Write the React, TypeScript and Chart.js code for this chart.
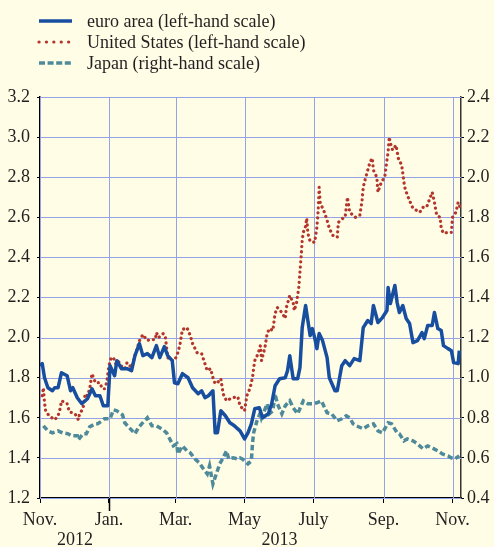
import React, { useEffect, useRef } from "react";
import { Chart, registerables } from "chart.js";

Chart.register(...registerables);

// x values are days since 1 Nov 2012
const euroDays = [0,2,4,7,11,13,16,19,24,27,29,33,37,42,46,49,53,56,60,62,66,68,72,77,81,84,88,91,95,99,103,106,110,113,117,119,122,126,131,135,140,143,146,149,153,155,157,160,164,168,172,177,181,184,187,190,194,197,202,205,208,212,217,219,221,224,228,230,232,235,237,239,241,243,245,247,250,254,256,261,263,267,270,274,278,283,286,290,293,295,299,303,307,308,310,314,316,318,321,324,327,330,334,338,340,343,347,349,352,355,357,361,364,366,370,371];
const euroValues = [1.86,1.87,1.80,1.75,1.735,1.75,1.75,1.825,1.81,1.735,1.75,1.70,1.67,1.695,1.745,1.71,1.71,1.66,1.66,1.86,1.81,1.885,1.845,1.845,1.835,1.91,1.97,1.91,1.92,1.90,1.96,1.90,1.955,1.91,1.885,1.775,1.77,1.82,1.80,1.75,1.72,1.735,1.70,1.71,1.735,1.525,1.525,1.635,1.61,1.575,1.56,1.535,1.495,1.525,1.57,1.645,1.65,1.60,1.62,1.67,1.76,1.795,1.80,1.835,1.91,1.795,1.795,1.85,2.05,2.16,2.085,2.01,2.045,2.00,1.945,2.02,1.985,1.90,1.80,1.735,1.735,1.86,1.885,1.86,1.895,1.885,2.05,2.085,2.07,2.16,2.075,2.10,2.135,2.25,2.17,2.26,2.175,2.125,2.16,2.095,2.07,1.975,1.985,2.025,1.995,2.06,2.06,2.125,2.045,2.035,1.96,1.945,1.935,1.875,1.87,1.935];

const usDays = [2,3,4,5,8,13,16,18,19,24,26,31,34,35,38,40,42,44,46,49,53,55,57,59,61,63,65,67,69,73,75,77,81,84,86,88,91,95,97,102,103,105,109,111,113,117,119,122,124,126,130,133,135,139,143,145,148,151,153,155,157,160,162,165,170,175,177,181,183,186,188,189,190,193,195,196,199,201,203,206,208,210,214,217,218,221,224,225,227,229,230,231,232,233,235,236,237,239,243,245,246,247,248,251,254,256,259,263,264,268,270,272,274,279,283,285,286,288,290,292,294,295,298,299,302,305,307,308,309,310,312,315,317,320,321,322,323,325,328,330,333,336,339,342,345,347,349,351,354,355,357,361,364,365,368,370,372];
const usValues = [1.71,1.75,1.675,1.635,1.61,1.59,1.61,1.65,1.685,1.67,1.63,1.62,1.59,1.62,1.645,1.72,1.71,1.745,1.82,1.775,1.775,1.745,1.745,1.775,1.86,1.90,1.90,1.87,1.885,1.85,1.845,1.875,1.85,1.91,1.945,1.985,2.015,1.985,1.99,1.99,2.025,2.00,2.02,2.00,1.90,1.885,1.885,1.925,1.97,2.04,2.05,2.01,1.97,1.925,1.92,1.885,1.835,1.845,1.80,1.77,1.775,1.795,1.72,1.685,1.70,1.705,1.66,1.635,1.71,1.75,1.80,1.845,1.885,1.92,1.96,1.885,1.95,2.02,2.045,2.035,2.12,2.15,2.125,2.095,2.15,2.21,2.175,2.135,2.175,2.25,2.325,2.40,2.485,2.525,2.555,2.595,2.52,2.48,2.475,2.55,2.625,2.75,2.67,2.635,2.585,2.545,2.51,2.50,2.575,2.595,2.60,2.70,2.625,2.60,2.61,2.685,2.75,2.795,2.835,2.875,2.895,2.835,2.80,2.725,2.775,2.80,2.885,2.925,3.00,2.97,2.935,2.96,2.895,2.86,2.82,2.775,2.745,2.71,2.67,2.645,2.635,2.625,2.65,2.65,2.695,2.725,2.675,2.61,2.60,2.545,2.52,2.525,2.525,2.60,2.625,2.675,2.645];

const japanDays = [3,7,11,16,20,25,28,33,34,38,41,44,49,51,55,57,62,65,68,73,75,80,84,87,90,95,99,103,109,112,118,121,122,126,130,133,137,141,144,148,150,153,156,159,162,165,167,171,175,177,179,184,187,188,189,192,195,196,201,203,206,208,210,214,217,221,224,228,233,237,241,245,249,254,258,263,267,271,274,277,280,286,290,295,299,303,308,311,316,318,322,325,330,334,339,343,347,352,356,361,364,367,371];
const japanValues = [0.76,0.735,0.725,0.735,0.725,0.72,0.71,0.71,0.69,0.72,0.72,0.755,0.77,0.77,0.785,0.795,0.795,0.84,0.835,0.815,0.775,0.745,0.72,0.75,0.77,0.80,0.76,0.76,0.74,0.725,0.66,0.67,0.62,0.66,0.635,0.625,0.595,0.575,0.55,0.52,0.56,0.47,0.52,0.57,0.60,0.635,0.595,0.60,0.595,0.60,0.595,0.57,0.585,0.67,0.725,0.785,0.825,0.80,0.87,0.82,0.835,0.92,0.87,0.82,0.86,0.885,0.85,0.82,0.885,0.87,0.87,0.875,0.885,0.825,0.82,0.785,0.795,0.81,0.80,0.77,0.76,0.745,0.76,0.77,0.735,0.725,0.775,0.77,0.725,0.72,0.685,0.695,0.685,0.67,0.645,0.66,0.65,0.635,0.62,0.61,0.60,0.595,0.61];

const seriesLabels = [
  "euro area (left-hand scale)",
  "United States (left-hand scale)",
  "Japan (right-hand scale)",
];
const tickDays = [0, 61, 120, 181, 242, 304, 365];
const tickLabels = ["Nov.", "Jan.", "Mar.", "May", "July", "Sep.", "Nov."];
const yearDays = [31, 212];
const yearLabels = ["2012", "2013"];
const yearBoundaryDays = [61];

const BG = "#FFFDE6";
const GRID = "#96A2E6";
const FONT = "'Liberation Serif', 'Times New Roman', serif";
const TEXT = "#231F20";
const FS = 18;

const zip = (xs: number[], ys: number[]) => xs.map((x, i) => ({ x, y: ys[i] }));

export default function App() {
  const ref = useRef<HTMLCanvasElement | null>(null);

  useEffect(() => {
    document.body.style.margin = "0";
    document.body.style.background = BG;
    const canvas = ref.current;
    if (!canvas) return;

    const bgPlugin = {
      id: "bg",
      beforeDraw(chart: any) {
        const { ctx, width, height } = chart;
        ctx.save();
        ctx.fillStyle = BG;
        ctx.fillRect(0, 0, width, height);
        ctx.restore();
      },
    };

    // crisp grid lines, positioned through the scales
    const gridPlugin = {
      id: "crispGrid",
      beforeDatasetsDraw(chart: any) {
        const { ctx, chartArea: a } = chart;
        const xs = chart.scales.x;
        const ys = chart.scales.y;
        ctx.save();
        ctx.strokeStyle = GRID;
        ctx.lineWidth = 1;
        ctx.beginPath();
        ys.ticks.forEach((t: any) => {
          const py = Math.round(ys.getPixelForValue(t.value)) + 0.5;
          ctx.moveTo(a.left, py);
          ctx.lineTo(a.right, py);
        });
        tickDays.forEach((d) => {
          const px = Math.round(xs.getPixelForValue(d)) + 0.5;
          ctx.moveTo(px, a.top);
          ctx.lineTo(px, a.bottom);
        });
        ctx.stroke();
        ctx.restore();
      },
    };

    const extrasPlugin = {
      id: "extras",
      afterDraw(chart: any) {
        const ctx = chart.ctx;
        const xs = chart.scales.x;
        const area = chart.chartArea;
        ctx.save();
        // legend
        chart.data.datasets.forEach((ds: any, i: number) => {
          const y = 21 + i * 21;
          ctx.beginPath();
          ctx.strokeStyle = ds.borderColor;
          ctx.lineWidth = ds.borderWidth;
          ctx.lineCap = ds.borderCapStyle || "butt";
          ctx.setLineDash(i === 1 ? [0.1, 7.3] : i === 2 ? [6, 2.6] : []);
          ctx.moveTo(39, y);
          ctx.lineTo(72, y);
          ctx.stroke();
          ctx.setLineDash([]);
          ctx.fillStyle = TEXT;
          ctx.font = `${FS}px ${FONT}`;
          ctx.textBaseline = "middle";
          ctx.textAlign = "left";
          ctx.fillText(ds.label, 87, y + 1);
        });
        // year boundary tick
        ctx.strokeStyle = "#000";
        ctx.lineWidth = 1.5;
        yearBoundaryDays.forEach((d) => {
          const px = Math.round(xs.getPixelForValue(d)) + 0.5;
          ctx.beginPath();
          ctx.moveTo(px, area.bottom);
          ctx.lineTo(px, area.bottom + 13);
          ctx.stroke();
        });
        // year labels
        ctx.fillStyle = TEXT;
        ctx.font = `${FS}px ${FONT}`;
        ctx.textAlign = "center";
        ctx.textBaseline = "alphabetic";
        yearDays.forEach((d, i) => {
          ctx.fillText(yearLabels[i], xs.getPixelForValue(d), 545);
        });
        ctx.restore();
      },
    };

    const chart = new Chart(canvas, {
      type: "line",
      data: {
        datasets: [
          {
            label: seriesLabels[0],
            data: zip(euroDays, euroValues),
            borderColor: "#174EA0",
            borderWidth: 3.5,
            pointRadius: 0,
            tension: 0,
            yAxisID: "y",
            borderJoinStyle: "round",
          },
          {
            label: seriesLabels[1],
            data: zip(usDays, usValues),
            borderColor: "#B3352C",
            borderWidth: 3.2,
            borderDash: [0.1, 5],
            borderCapStyle: "round",
            pointRadius: 0,
            tension: 0,
            yAxisID: "y",
          },
          {
            label: seriesLabels[2],
            data: zip(japanDays, japanValues),
            borderColor: "#4E8A99",
            borderWidth: 3.5,
            borderDash: [5.5, 3],
            pointRadius: 0,
            tension: 0,
            yAxisID: "y1",
          },
        ],
      },
      options: {
        animation: false,
        responsive: false,
        events: [],
        layout: { padding: { top: 97, left: 0, right: 0, bottom: 0 } },
        plugins: { legend: { display: false }, tooltip: { enabled: false } },
        scales: {
          x: {
            type: "linear",
            min: 0,
            max: 372.5,
            afterBuildTicks: (scale: any) => {
              scale.ticks = tickDays.map((v) => ({ value: v }));
            },
            afterFit: (scale: any) => {
              scale.height = 49;
            },
            grid: {
              drawOnChartArea: false,
              tickColor: "#000",
              tickLength: 5,
              drawTicks: true,
            },
            border: { color: "#000", width: 1.5 },
            ticks: {
              autoSkip: false,
              maxRotation: 0,
              padding: 6,
              color: TEXT,
              font: { family: FONT, size: FS },
              callback: (v: any) => {
                const i = tickDays.indexOf(Number(v));
                return i >= 0 ? tickLabels[i] : "";
              },
            },
          },
          y: {
            position: "left",
            min: 1.2,
            max: 3.2,
            afterFit: (scale: any) => {
              scale.width = 40;
            },
            grid: { drawOnChartArea: false, tickColor: "#000", tickLength: 3 },
            border: { color: "#000", width: 1.5 },
            ticks: {
              stepSize: 0.2,
              padding: 7,
              color: TEXT,
              font: { family: FONT, size: FS },
              callback: (v: any) => Number(v).toFixed(1),
            },
          },
          y1: {
            position: "right",
            min: 0.4,
            max: 2.4,
            afterFit: (scale: any) => {
              scale.width = 33;
            },
            grid: { drawOnChartArea: false, tickColor: "#000", tickLength: 3 },
            border: { color: "#333", width: 1.5 },
            ticks: {
              stepSize: 0.2,
              padding: 3,
              color: TEXT,
              font: { family: FONT, size: FS },
              callback: (v: any) => Number(v).toFixed(1),
            },
          },
        },
      },
      plugins: [bgPlugin, gridPlugin, extrasPlugin],
    } as any);

    return () => chart.destroy();
  }, []);

  return (
    <div style={{ width: 494, height: 547, background: BG }}>
      <canvas ref={ref} width={494} height={547} style={{ display: "block" }} />
    </div>
  );
}
